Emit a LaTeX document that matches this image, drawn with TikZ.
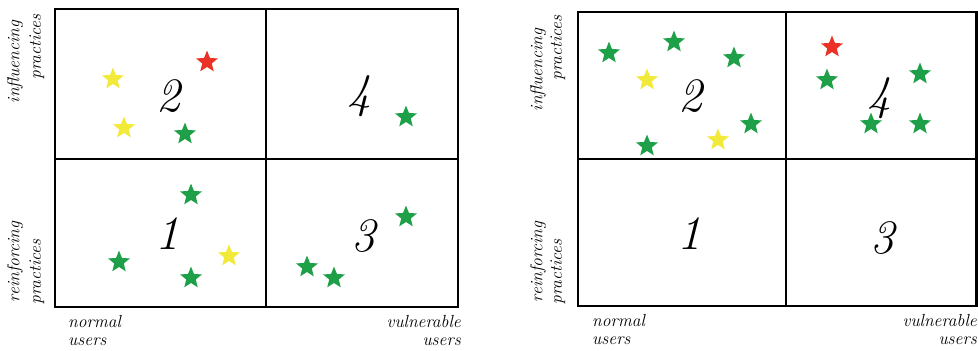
\documentclass[tikz,border=0pt]{standalone}
\usetikzlibrary{shapes.geometric}
\definecolor{stargreen}{RGB}{30,160,72}
\definecolor{staryellow}{RGB}{242,234,58}
\definecolor{starred}{RGB}{234,50,38}
\tikzset{
  st/.style={star, star points=5, star point ratio=2.3, minimum size=23pt, inner sep=0pt, draw=none, fill=#1},
  gs/.style={st=stargreen},
  ys/.style={st=staryellow},
  rs/.style={st=starred},
  num/.style={font=\fontsize{48}{48}\selectfont\itshape, inner sep=0pt},
  lab/.style={font=\fontsize{17.5}{19}\selectfont\itshape, inner sep=0pt},
  frame/.style={line width=2.6pt, line join=miter},
  divider/.style={line width=1.8pt}
}
\begin{document}
\begin{tikzpicture}[x=1pt,y=-1pt]
\useasboundingbox (0,0) rectangle (978,351);
% ---------- left panel ----------
\draw[frame] (55,9) rectangle (458,307);
\draw[divider] (266,9) -- (266,307);
\draw[divider] (55,159) -- (458,159);
\node[num] (L2) at (168,96) {2};
\node[num] (L4) at (359,96) {4};
\node[num] (L1) at (167,234) {1};
\node[num] (L3) at (363,236) {3};
\node[ys] (la) at (113,79) {};
\node[rs] (lb) at (207,62) {};
\node[ys] (lc) at (124,128) {};
\node[gs] (ld) at (185,134) {};
\node[gs] (le) at (406,117) {};
\node[gs] (lf) at (191,195) {};
\node[gs] (lg) at (119,262) {};
\node[gs] (lh) at (191,278) {};
\node[ys] (li) at (229,256) {};
\node[gs] (lj) at (406,217) {};
\node[gs] (lk) at (307,267) {};
\node[gs] (ll) at (334,278) {};
\node[lab, rotate=90] (Linf) at (15,62) {influencing};
\node[lab, rotate=90] (Lprac1) at (37,47) {practices};
\node[lab, rotate=90] (Lrein) at (15,262) {reinforcing};
\node[lab, rotate=90] (Lprac2) at (37,272) {practices};
\node[lab, anchor=west] (Lnorm) at (68,322) {normal};
\node[lab, anchor=west] (Lus1) at (68,342) {users};
\node[lab, anchor=east] (Lvul) at (461,322) {vulnerable};
\node[lab, anchor=east] (Lus2) at (461,342) {users};
% ---------- right panel ----------
\draw[frame] (578,12) rectangle (976.5,306);
\draw[divider] (786,12) -- (786,306);
\draw[divider] (578,159) -- (976.5,159);
\node[num] (R2) at (690,96) {2};
\node[num] (R4) at (879,98) {4};
\node[num] (R1) at (689,234) {1};
\node[num] (R3) at (882,238) {3};
\node[gs] (ra) at (609,53) {};
\node[gs] (rb) at (674,42) {};
\node[gs] (rc) at (734,58) {};
\node[ys] (rd) at (647,80) {};
\node[gs] (re) at (751,124) {};
\node[ys] (rf) at (718,140) {};
\node[gs] (rg) at (647,146) {};
\node[rs] (rh) at (832,47) {};
\node[gs] (ri) at (827,80) {};
\node[gs] (rj) at (920,74) {};
\node[gs] (rk) at (871,124) {};
\node[gs] (rl) at (920,124) {};
\node[lab, rotate=90] (Rinf) at (538,70) {influencing};
\node[lab, rotate=90] (Rprac1) at (558,48) {practices};
\node[lab, rotate=90] (Rrein) at (538,262) {reinforcing};
\node[lab, rotate=90] (Rprac2) at (558,272) {practices};
\node[lab, anchor=west] (Rnorm) at (592,321) {normal};
\node[lab, anchor=west] (Rus1) at (592,341) {users};
\node[lab, anchor=east] (Rvul) at (977,321) {vulnerable};
\node[lab, anchor=east] (Rus2) at (977,341) {users};
\end{tikzpicture}
\end{document}
